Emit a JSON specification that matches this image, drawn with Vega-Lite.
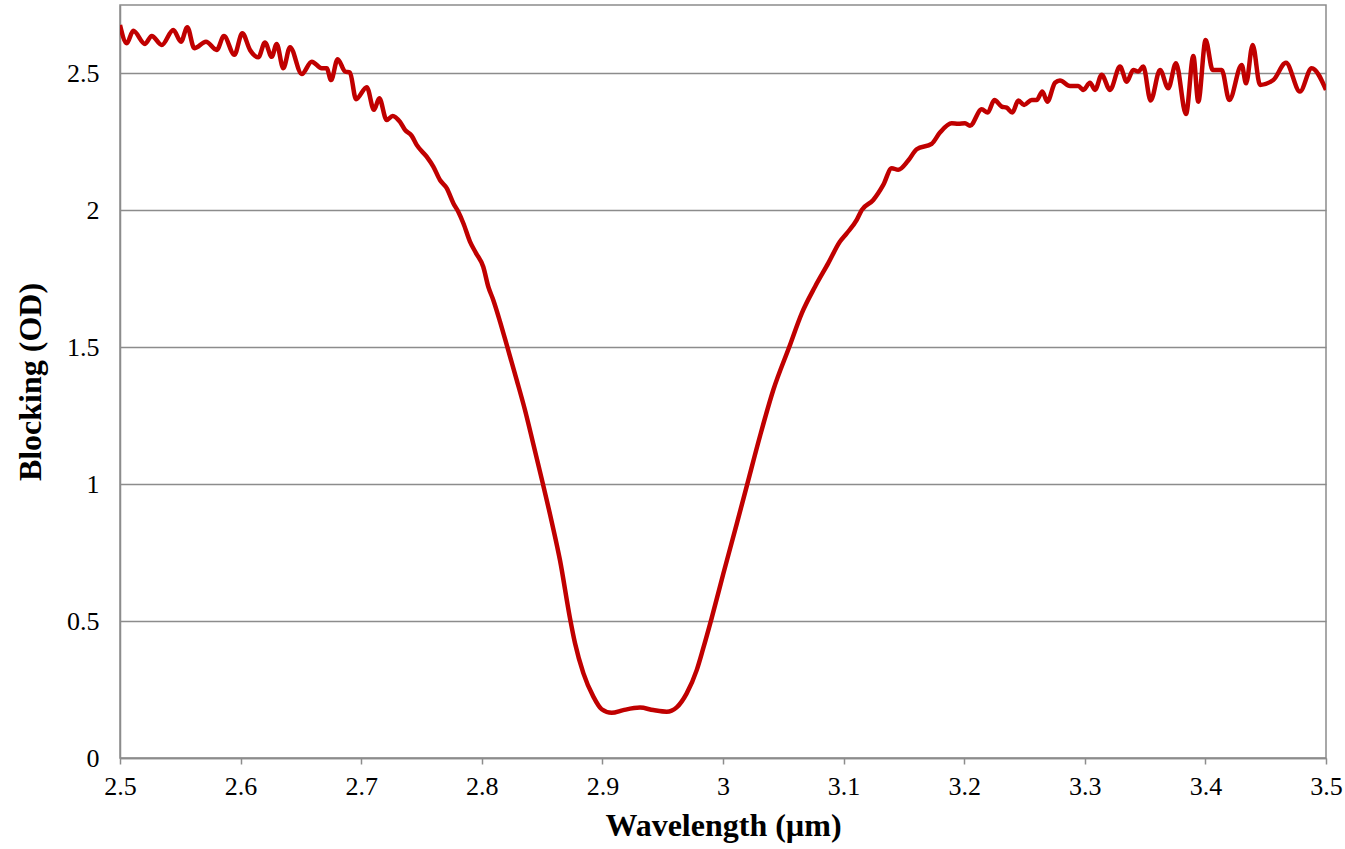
{
  "$schema": "https://vega.github.io/schema/vega-lite/v6.json",
  "width": 1206,
  "height": 753,
  "autosize": {"type": "none"},
  "padding": {"left": 120, "top": 5, "right": 19, "bottom": 91},
  "background": "white",
  "config": {
    "view": {"stroke": "#8c8c8c", "strokeWidth": 1.5},
    "font": "Liberation Serif"
  },
  "data": {
    "values": [
      {"wl": 2.5, "od": 2.677}, {"wl": 2.5056, "od": 2.610}, {"wl": 2.5110, "od": 2.656}, {"wl": 2.5207, "od": 2.608},
      {"wl": 2.5263, "od": 2.637}, {"wl": 2.5346, "od": 2.604}, {"wl": 2.5442, "od": 2.659}, {"wl": 2.5506, "od": 2.616},
      {"wl": 2.5558, "od": 2.669}, {"wl": 2.5616, "od": 2.592}, {"wl": 2.5713, "od": 2.616}, {"wl": 2.5802, "od": 2.586},
      {"wl": 2.5862, "od": 2.637}, {"wl": 2.5948, "od": 2.568}, {"wl": 2.6014, "od": 2.647}, {"wl": 2.6078, "od": 2.586},
      {"wl": 2.6147, "od": 2.559}, {"wl": 2.6202, "od": 2.613}, {"wl": 2.6258, "od": 2.561}, {"wl": 2.6299, "od": 2.608},
      {"wl": 2.6354, "od": 2.519}, {"wl": 2.6410, "od": 2.596}, {"wl": 2.6507, "od": 2.498}, {"wl": 2.6590, "od": 2.543},
      {"wl": 2.6672, "od": 2.519}, {"wl": 2.6714, "od": 2.519}, {"wl": 2.6750, "od": 2.476}, {"wl": 2.6805, "od": 2.552},
      {"wl": 2.6866, "od": 2.507}, {"wl": 2.6907, "od": 2.503}, {"wl": 2.6957, "od": 2.406}, {"wl": 2.7046, "od": 2.450},
      {"wl": 2.7106, "od": 2.367}, {"wl": 2.7150, "od": 2.409}, {"wl": 2.7211, "od": 2.330}, {"wl": 2.7261, "od": 2.345},
      {"wl": 2.7322, "od": 2.323}, {"wl": 2.7363, "od": 2.294}, {"wl": 2.7419, "od": 2.272}, {"wl": 2.7460, "od": 2.239},
      {"wl": 2.7543, "od": 2.196}, {"wl": 2.7598, "od": 2.160}, {"wl": 2.7653, "od": 2.111}, {"wl": 2.7709, "od": 2.081},
      {"wl": 2.7764, "od": 2.026}, {"wl": 2.7805, "od": 1.995}, {"wl": 2.7847, "od": 1.953}, {"wl": 2.7902, "od": 1.886},
      {"wl": 2.7952, "od": 1.844}, {"wl": 2.8012, "od": 1.794}, {"wl": 2.8054, "od": 1.721}, {"wl": 2.8095, "od": 1.673},
      {"wl": 2.8151, "od": 1.594}, {"wl": 2.8211, "od": 1.502}, {"wl": 2.8289, "od": 1.381}, {"wl": 2.8358, "od": 1.271},
      {"wl": 2.8427, "od": 1.147}, {"wl": 2.8497, "od": 1.019}, {"wl": 2.8580, "od": 0.862}, {"wl": 2.8648, "od": 0.723},
      {"wl": 2.8731, "od": 0.511}, {"wl": 2.8773, "od": 0.419}, {"wl": 2.8842, "od": 0.310}, {"wl": 2.8925, "od": 0.224},
      {"wl": 2.8994, "od": 0.178}, {"wl": 2.9077, "od": 0.165}, {"wl": 2.9173, "od": 0.175}, {"wl": 2.9312, "od": 0.184},
      {"wl": 2.9422, "od": 0.175}, {"wl": 2.9533, "od": 0.169}, {"wl": 2.9616, "od": 0.185}, {"wl": 2.9699, "od": 0.236},
      {"wl": 2.9782, "od": 0.321}, {"wl": 2.9837, "od": 0.402}, {"wl": 2.9906, "od": 0.511}, {"wl": 3.0002, "od": 0.672},
      {"wl": 3.0114, "od": 0.855}, {"wl": 3.0197, "od": 0.993}, {"wl": 3.0307, "od": 1.176}, {"wl": 3.0417, "od": 1.344},
      {"wl": 3.0550, "od": 1.502}, {"wl": 3.0653, "od": 1.624}, {"wl": 3.0763, "od": 1.721}, {"wl": 3.0873, "od": 1.807},
      {"wl": 3.0970, "od": 1.886}, {"wl": 3.1026, "od": 1.916}, {"wl": 3.1109, "od": 1.965}, {"wl": 3.1150, "od": 2.001},
      {"wl": 3.1246, "od": 2.038}, {"wl": 3.1329, "od": 2.093}, {"wl": 3.1399, "od": 2.154}, {"wl": 3.1453, "od": 2.148},
      {"wl": 3.1536, "od": 2.182}, {"wl": 3.1606, "od": 2.223}, {"wl": 3.1730, "od": 2.243}, {"wl": 3.1799, "od": 2.284},
      {"wl": 3.1896, "od": 2.318}, {"wl": 3.1951, "od": 2.316}, {"wl": 3.2007, "od": 2.318}, {"wl": 3.2048, "od": 2.309},
      {"wl": 3.2145, "od": 2.369}, {"wl": 3.2195, "od": 2.357}, {"wl": 3.2250, "od": 2.403}, {"wl": 3.2311, "od": 2.379},
      {"wl": 3.2352, "od": 2.375}, {"wl": 3.2399, "od": 2.357}, {"wl": 3.2449, "od": 2.401}, {"wl": 3.2496, "od": 2.385},
      {"wl": 3.2560, "od": 2.403}, {"wl": 3.2601, "od": 2.403}, {"wl": 3.2648, "od": 2.434}, {"wl": 3.2689, "od": 2.397},
      {"wl": 3.2753, "od": 2.466}, {"wl": 3.2794, "od": 2.474}, {"wl": 3.2877, "od": 2.454}, {"wl": 3.2946, "od": 2.454},
      {"wl": 3.2988, "od": 2.440}, {"wl": 3.3043, "od": 2.466}, {"wl": 3.3085, "od": 2.440}, {"wl": 3.3140, "od": 2.495},
      {"wl": 3.3209, "od": 2.440}, {"wl": 3.3292, "od": 2.525}, {"wl": 3.3348, "od": 2.470}, {"wl": 3.3402, "od": 2.513},
      {"wl": 3.3444, "od": 2.507}, {"wl": 3.3485, "od": 2.525}, {"wl": 3.3546, "od": 2.401}, {"wl": 3.3624, "od": 2.513},
      {"wl": 3.3692, "od": 2.446}, {"wl": 3.3756, "od": 2.537}, {"wl": 3.3839, "od": 2.352}, {"wl": 3.3900, "od": 2.564},
      {"wl": 3.3941, "od": 2.397}, {"wl": 3.4002, "od": 2.622}, {"wl": 3.4060, "od": 2.513}, {"wl": 3.4135, "od": 2.513},
      {"wl": 3.4198, "od": 2.403}, {"wl": 3.4301, "od": 2.531}, {"wl": 3.4337, "od": 2.464}, {"wl": 3.4392, "od": 2.604},
      {"wl": 3.4453, "od": 2.458}, {"wl": 3.4563, "od": 2.476}, {"wl": 3.4668, "od": 2.539}, {"wl": 3.4784, "od": 2.434},
      {"wl": 3.4881, "od": 2.519}, {"wl": 3.5, "od": 2.440}
    ]
  },
  "mark": {"type": "line", "color": "#C00000", "strokeWidth": 4.5, "interpolate": "monotone", "clip": true},
  "encoding": {
    "x": {
      "field": "wl", "type": "quantitative",
      "scale": {"domain": [2.5, 3.5], "nice": false, "zero": false},
      "axis": {
        "title": "Wavelength (µm)", "values": [2.5, 2.6, 2.7, 2.8, 2.9, 3.0, 3.1, 3.2, 3.3, 3.4, 3.5],
        "labelExpr": "'' + datum.value",
        "grid": false, "domainColor": "#8c8c8c", "domainWidth": 1.5,
        "tickColor": "#8c8c8c", "tickWidth": 1.5, "tickSize": 6,
        "labelFont": "Liberation Serif", "labelFontSize": 26, "labelColor": "black", "labelPadding": 9,
        "labelFlush": false, "labelOverlap": false,
        "titleFont": "Liberation Serif", "titleFontSize": 32, "titleFontWeight": "bold", "titleColor": "black", "titlePadding": 11
      }
    },
    "y": {
      "field": "od", "type": "quantitative",
      "scale": {"domain": [0, 2.75], "nice": false},
      "axis": {
        "title": "Blocking (OD)", "values": [0, 0.5, 1, 1.5, 2, 2.5],
        "labelExpr": "'' + datum.value",
        "grid": true, "gridColor": "#8c8c8c", "gridWidth": 1.5,
        "domainColor": "#8c8c8c", "domainWidth": 1.5, "ticks": false,
        "labelFont": "Liberation Serif", "labelFontSize": 26, "labelColor": "black", "labelPadding": 21,
        "labelFlush": false, "labelOverlap": false,
        "titleFont": "Liberation Serif", "titleFontSize": 32, "titleFontWeight": "bold", "titleColor": "black", "titlePadding": 19
      }
    }
  }
}
